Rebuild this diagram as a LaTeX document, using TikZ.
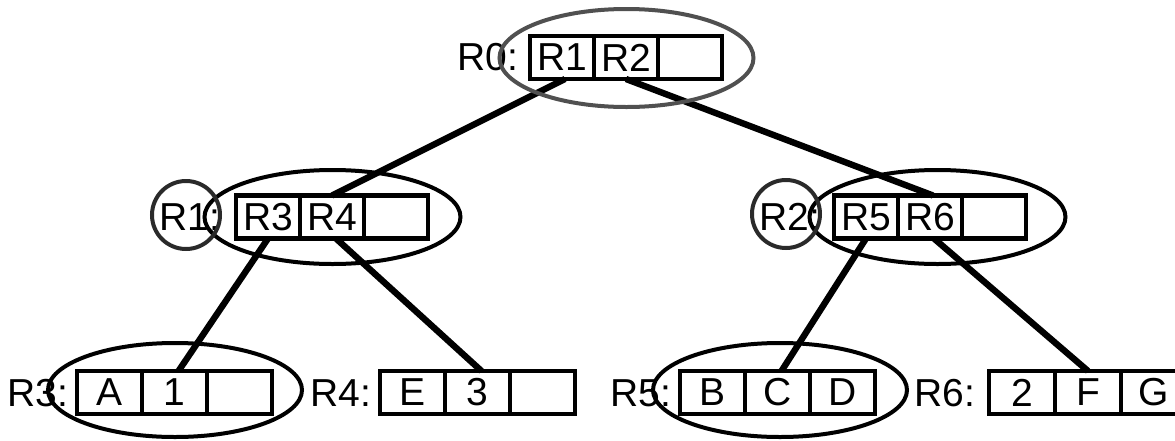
\documentclass[tikz,border=0pt]{standalone}
\usepackage{fontspec}
\setmainfont{Liberation Sans}
\usetikzlibrary{shapes.geometric}
\definecolor{ovalgray}{HTML}{505050}
\definecolor{ringgray}{HTML}{2A2A2A}
\begin{document}
\begin{tikzpicture}[x=0.5pt,y=-0.5pt,
  txt/.style={font=\fontsize{19.5}{22}\selectfont},
  cell/.style={txt,draw=black,line width=2.4pt,rectangle,minimum height=21.5pt,inner sep=0pt,outer sep=0pt},
  cellA/.style={cell,minimum width=32pt},
  cellB/.style={cell,minimum width=32.5pt},
  cellC/.style={cell,minimum width=33pt},
  lbl/.style={txt,anchor=west,inner sep=0pt},
  link/.style={line width=3.2pt},
  oval/.style={line width=2pt},
  ring/.style={draw=ringgray,line width=2pt}
]
\useasboundingbox (0,0) rectangle (1175,440);

% top row
\node[cellA] (t1) at (562,57.5) {R1};
\node[cellA] (t2) at (626,57.5) {R2};
\node[cellA] (t3) at (690,57.5) {};
\node[lbl] (l0) at (457,57.5) {R0:};

% middle left
\node[cellA] (a1) at (268,217) {R3};
\node[cellA] (a2) at (332,217) {R4};
\node[cellA] (a3) at (396,217) {};
\node[lbl] (l1) at (159,217) {R1:};

% middle right
\node[cellA] (b1) at (866,217) {R5};
\node[cellA] (b2) at (930,217) {R6};
\node[cellA] (b3) at (994,217) {};
\node[lbl] (l2) at (759,217) {R2:};

% bottom rows
\node[cellB] (c1) at (109.5,392.5) {A};
\node[cellB] (c2) at (174.5,392.5) {1};
\node[cellB] (c3) at (239.5,392.5) {};
\node[lbl] (l3) at (7,393) {R3:};

\node[cellB] (d1) at (412.5,392.5) {E};
\node[cellB] (d2) at (477.5,392.5) {3};
\node[cellB] (d3) at (542.5,392.5) {};
\node[lbl] (l4) at (310,393) {R4:};

\node[cellB] (e1) at (712.5,392.5) {B};
\node[cellB] (e2) at (777.5,392.5) {C};
\node[cellB] (e3) at (842.5,392.5) {D};
\node[lbl] (l5) at (610,393) {R5:};

\node[cellC] (f1) at (1022,392.5) {2};
\node[cellC] (f2) at (1088,392.5) {F};
\node[cellC] (f3) at (1154,392.5) {G};
\node[lbl] (l6) at (914,393) {R6:};

% connectors
\draw[link] ([xshift=1.5pt]t1.south) -- (a2.north);
\draw[link] (t2.south) -- ([xshift=1.5pt]b2.north);
\draw[link] (a1.south) -- ([xshift=2pt]c2.north);
\draw[link] ([xshift=2pt]a2.south) -- ([xshift=2pt]d2.north);
\draw[link] (b1.south) -- ([xshift=2pt]e2.north);
\draw[link] ([xshift=2pt]b2.south) -- (f2.north);

% ovals and rings
\draw[oval,draw=ovalgray] (626.5,58) ellipse [x radius=63.5pt, y radius=24.5pt];
\draw[oval] (332.5,217) ellipse [x radius=64pt, y radius=23.5pt];
\draw[oval] (937.5,217) ellipse [x radius=64pt, y radius=23.5pt];
\draw[oval] (175,390) ellipse [x radius=63.5pt, y radius=23.5pt];
\draw[oval] (780,390) ellipse [x radius=63.5pt, y radius=23.5pt];
\draw[ring] (186,215) circle [radius=17pt];
\draw[ring] (786,214) circle [radius=17pt];
\end{tikzpicture}
\end{document}
